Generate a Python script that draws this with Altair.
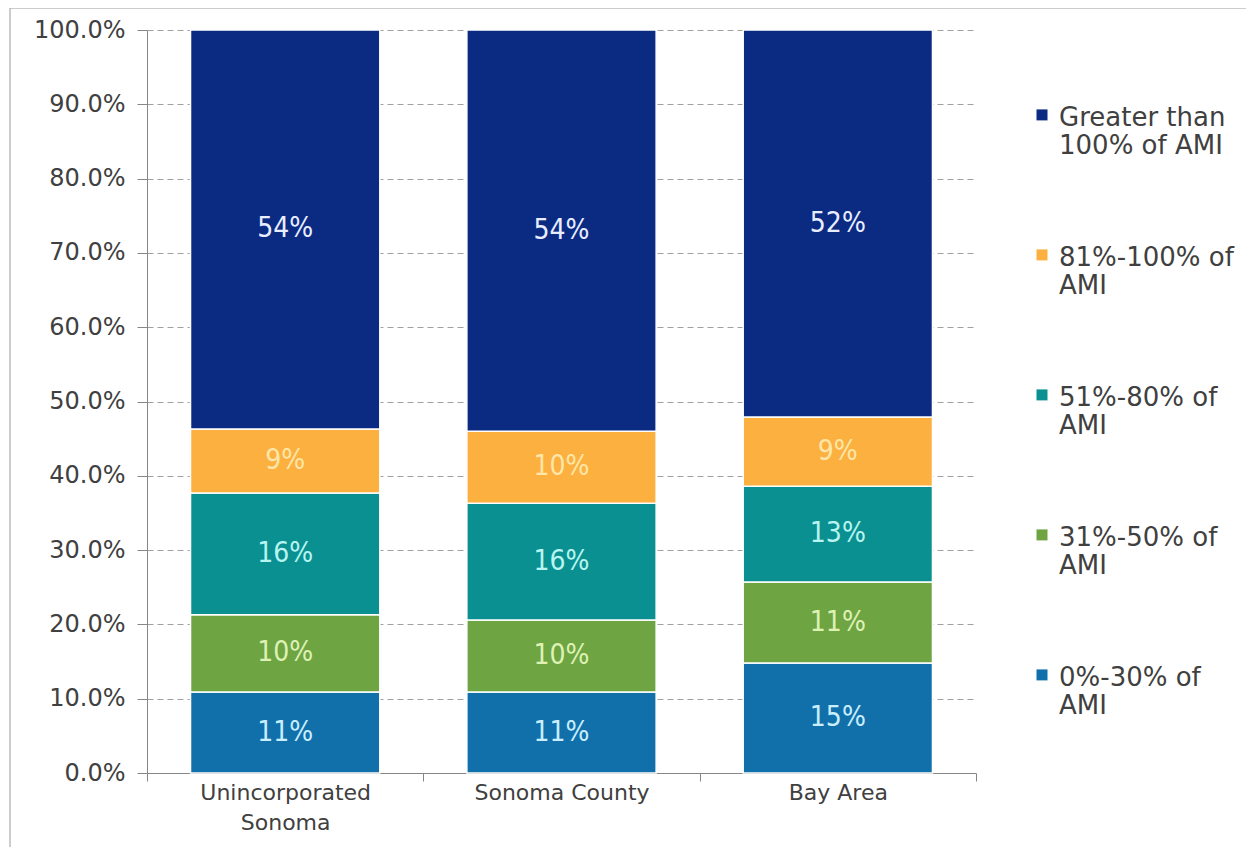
import altair as alt
import pandas as pd

categories = ["Unincorporated Sonoma", "Sonoma County", "Bay Area"]
groups = ["0%-30% of AMI", "31%-50% of AMI", "51%-80% of AMI",
          "81%-100% of AMI", "Greater than 100% of AMI"]
colors = ["#1170AA", "#6FA443", "#0A9090", "#FBB040", "#0B2A82"]
label_colors = ["#C8EEFF", "#DDF2B4", "#B8F4F0", "#FFE6A8", "#E8EEFF"]

share_0_30 = [0.109, 0.109, 0.148]
share_31_50 = [0.104, 0.097, 0.109]
share_51_80 = [0.164, 0.157, 0.129]
share_81_100 = [0.086, 0.097, 0.093]
share_over_100 = [0.537, 0.540, 0.521]

y_ticks = [0.0, 0.1, 0.2, 0.3, 0.4, 0.5, 0.6, 0.7, 0.8, 0.9, 1.0]

series = [share_0_30, share_31_50, share_51_80, share_81_100, share_over_100]
rows = []
for gi, (g, vals) in enumerate(zip(groups, series)):
    for ci, c in enumerate(categories):
        rows.append({"category": c, "group": g, "value": vals[ci],
                     "order": gi, "lcolor": label_colors[gi]})
df = pd.DataFrame(rows)

AXIS_FONT = "DejaVu Sans"
BAR_FONT = "DejaVu Sans Condensed, Liberation Sans Narrow, sans-serif"

x_scale = alt.Scale(paddingInner=0, paddingOuter=0)

x_enc = alt.X(
    "category:N", sort=categories, scale=x_scale,
    axis=alt.Axis(
        title=None, labelAngle=0, labelFont=AXIS_FONT, labelFontSize=22,
        labelColor="#404040", labelPadding=1, labelLineHeight=30,
        labelExpr="datum.label == 'Unincorporated Sonoma' ? ['Unincorporated', 'Sonoma'] : datum.label",
        domainColor="#868686", tickColor="#868686", tickSize=8,
        tickBand="extent", grid=False,
    ),
)

base = alt.Chart(df).transform_stack(
    stack="value", groupby=["category"], as_=["y0", "y1"],
    sort=[alt.SortField("order", order="ascending")],
).transform_calculate(mid="(datum.y0 + datum.y1) / 2")

bars = base.mark_bar(
    stroke="white", strokeWidth=1.5, width=alt.RelativeBandSize(0.685)
).encode(
    x=x_enc,
    y=alt.Y(
        "y0:Q", scale=alt.Scale(domain=[0, 1], nice=False),
        axis=alt.Axis(
            title=None, values=y_ticks, format=".1%", labelFont=AXIS_FONT,
            labelFontSize=24, labelColor="#404040", labelPadding=12,
            domainColor="#868686", tickColor="#868686", tickSize=10,
            grid=True, gridColor="#A0A0A0", gridDash=[6, 4], gridWidth=1,
        ),
    ),
    y2="y1:Q",
    color=alt.Color(
        "group:N",
        scale=alt.Scale(domain=groups[::-1], range=colors[::-1]),
        legend=alt.Legend(
            title=None, orient="none", legendX=882, legendY=62,
            symbolType="M-1,0.8H1V2.8H-1Z", symbolSize=121,
            symbolStrokeWidth=0, labelFont=AXIS_FONT, labelFontSize=26,
            labelColor="#404040", labelLimit=400, labelOffset=4,
            labelBaseline="top", rowPadding=73,
            padding=0,
            labelExpr="datum.label == 'Greater than 100% of AMI' ? ['Greater than', '100% of AMI'] : [replace(datum.label, ' AMI', ''), 'AMI']",
        ),
    ),
    order=alt.Order("order:Q"),
)

labels = base.mark_text(font=BAR_FONT, fontSize=28, baseline="middle").encode(
    x=alt.X("category:N", sort=categories, scale=x_scale),
    y=alt.Y("mid:Q"),
    text=alt.Text("value:Q", format=".0%"),
    color=alt.Color("lcolor:N", scale=None),
)

frame = alt.Chart(pd.DataFrame({"f": [0]})).mark_rect(
    filled=False, stroke="#9A9A9A", strokeWidth=1
).encode(
    x=alt.value(-137), x2=alt.value(1100), y=alt.value(-22), y2=alt.value(822)
)

chart = alt.layer(bars, labels, frame).resolve_scale(color="independent").properties(
    width=829, height=743,
    autosize=alt.AutoSizeParams(type="none"),
    padding={"left": 139, "top": 22, "right": 270, "bottom": 74},
    background="white",
).configure_view(strokeWidth=0)

chart.save("out.html", embed_options={"renderer": "svg", "actions": False})
